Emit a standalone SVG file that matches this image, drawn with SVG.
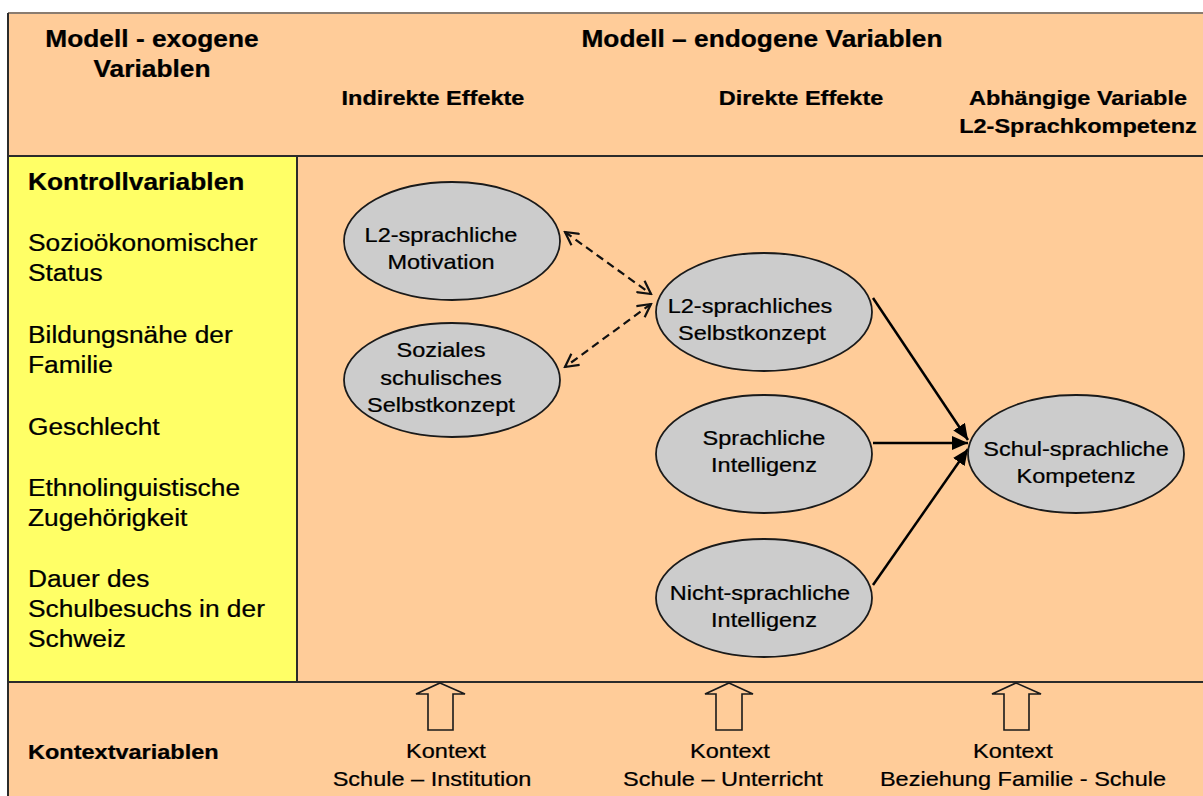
<svg xmlns="http://www.w3.org/2000/svg" width="1203" height="796" viewBox="0 0 1203 796">
<style>
text{font-family:"Liberation Sans",Arial,Helvetica,sans-serif;fill:#000;stroke:#000;stroke-width:0.25;transform-box:fill-box;transform:scaleX(1.12)}
.h{font-size:23.5px;font-weight:bold;text-anchor:middle;transform-origin:50% 50%}
.sh{font-size:21px;font-weight:bold;text-anchor:middle;transform-origin:50% 50%}
.l{font-size:23.5px;transform-origin:0% 50%}
.lb{font-size:23.5px;font-weight:bold;transform-origin:0% 50%}
.kb{font-size:21px;font-weight:bold;transform-origin:0% 50%}
.n{font-size:21px;text-anchor:middle;transform-origin:50% 50%}
.node ellipse{fill:#CCCCCC;stroke:#1a1a1a;stroke-width:1.8}
.grid{stroke:#2b2b2b;stroke-width:2;fill:none}
.dash{stroke:#111;stroke-width:2.2;stroke-dasharray:8 5;fill:none}
.solid{stroke:#000;stroke-width:2.5;fill:none}
.hollow{fill:#FFCC99;stroke:#1a1a1a;stroke-width:1.6}
</style>
<defs>
<marker id="open" viewBox="0 0 16 16" refX="14" refY="8" markerWidth="16" markerHeight="16" markerUnits="userSpaceOnUse" orient="auto-start-reverse">
<path d="M1,1 L14,8 L1,15" fill="none" stroke="#111" stroke-width="2.2"/>
</marker>
<marker id="fill" viewBox="0 0 16 14" refX="16" refY="7" markerWidth="16" markerHeight="14" markerUnits="userSpaceOnUse" orient="auto">
<path d="M0,0 L16,7 L0,14 z" fill="#000"/>
</marker>
</defs>

<g id="background">
<rect x="0" y="0" width="1203" height="796" fill="#ffffff"/>
<rect x="8" y="13" width="1200" height="790" fill="#FFCC99"/>
<rect x="8" y="156" width="289" height="526" fill="#FFFF66"/>
<line x1="8" y1="13" x2="1203" y2="13" stroke="#8a7c70" stroke-width="2"/>
<line x1="8" y1="13" x2="8" y2="796" class="grid"/>
<line x1="8" y1="156" x2="1203" y2="156" class="grid"/>
<line x1="297" y1="156" x2="297" y2="682" class="grid"/>
<line x1="8" y1="682" x2="1203" y2="682" class="grid"/>
</g>

<g id="header">
<text class="h" x="152" y="47">Modell - exogene</text>
<text class="h" x="152" y="77">Variablen</text>
<text class="h" x="762" y="47">Modell – endogene Variablen</text>
<text class="sh" x="433" y="105">Indirekte Effekte</text>
<text class="sh" x="801" y="105">Direkte Effekte</text>
<text class="sh" x="1078" y="105">Abhängige Variable</text>
<text class="sh" x="1078" y="133">L2-Sprachkompetenz</text>
</g>

<g id="kontrollvariablen">
<text class="lb" x="28" y="190">Kontrollvariablen</text>
<text class="l" x="28" y="251">Sozioökonomischer</text>
<text class="l" x="28" y="281">Status</text>
<text class="l" x="28" y="343">Bildungsnähe der</text>
<text class="l" x="28" y="373">Familie</text>
<text class="l" x="28" y="435">Geschlecht</text>
<text class="l" x="28" y="496">Ethnolinguistische</text>
<text class="l" x="28" y="526">Zugehörigkeit</text>
<text class="l" x="28" y="587">Dauer des</text>
<text class="l" x="28" y="617">Schulbesuchs in der</text>
<text class="l" x="28" y="647">Schweiz</text>
</g>

<g id="connectors">
<line class="dash" x1="565" y1="232" x2="651" y2="294" marker-start="url(#open)" marker-end="url(#open)"/>
<line class="dash" x1="651" y1="304" x2="565" y2="367" marker-start="url(#open)" marker-end="url(#open)"/>
<line class="solid" x1="873" y1="298" x2="968" y2="440" marker-end="url(#fill)"/>
<line class="solid" x1="873" y1="443" x2="968" y2="443" marker-end="url(#fill)"/>
<line class="solid" x1="873" y1="585" x2="968" y2="449" marker-end="url(#fill)"/>
</g>

<g id="node-motivation" class="node">
<ellipse cx="452" cy="241" rx="108" ry="59"/>
<text class="n" x="441" y="242">L2-sprachliche</text>
<text class="n" x="441" y="269">Motivation</text>
</g>
<g id="node-soziales" class="node">
<ellipse cx="452" cy="380" rx="108" ry="57"/>
<text class="n" x="441" y="357">Soziales</text>
<text class="n" x="441" y="385">schulisches</text>
<text class="n" x="441" y="412">Selbstkonzept</text>
</g>
<g id="node-selbstkonzept" class="node">
<ellipse cx="764" cy="312" rx="108" ry="59"/>
<text class="n" x="750" y="313">L2-sprachliches</text>
<text class="n" x="752" y="340">Selbstkonzept</text>
</g>
<g id="node-sprachliche" class="node">
<ellipse cx="764" cy="454" rx="108" ry="59"/>
<text class="n" x="764" y="445">Sprachliche</text>
<text class="n" x="764" y="472">Intelligenz</text>
</g>
<g id="node-nichtsprachliche" class="node">
<ellipse cx="764" cy="598" rx="108" ry="59"/>
<text class="n" x="760" y="600">Nicht-sprachliche</text>
<text class="n" x="764" y="627">Intelligenz</text>
</g>
<g id="node-kompetenz" class="node">
<ellipse cx="1076" cy="454" rx="108" ry="59"/>
<text class="n" x="1076" y="456">Schul-sprachliche</text>
<text class="n" x="1076" y="483">Kompetenz</text>
</g>

<g id="kontextvariablen">
<text class="kb" x="28" y="759">Kontextvariablen</text>
</g>
<g id="kontext-institution">
<polygon class="hollow" points="440,683 465,694 453,694 453,730 428,730 428,694 416,694"/>
<text class="n" x="446" y="758">Kontext</text>
<text class="n" x="432" y="786">Schule – Institution</text>
</g>
<g id="kontext-unterricht">
<polygon class="hollow" points="729,683 753,694 742,694 742,730 716,730 716,694 705,694"/>
<text class="n" x="730" y="758">Kontext</text>
<text class="n" x="723" y="786">Schule – Unterricht</text>
</g>
<g id="kontext-familie">
<polygon class="hollow" points="1016,683 1041,694 1029,694 1029,730 1004,730 1004,694 992,694"/>
<text class="n" x="1013" y="758">Kontext</text>
<text class="n" x="1023" y="786">Beziehung Familie - Schule</text>
</g>
</svg>
